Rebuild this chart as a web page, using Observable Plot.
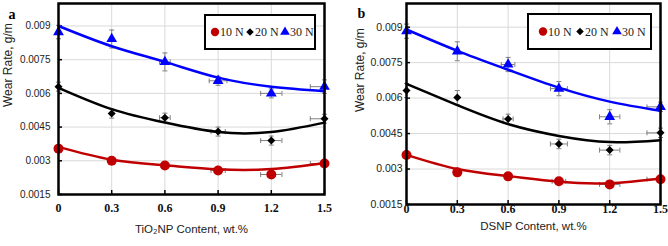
<!DOCTYPE html>
<html><head><meta charset="utf-8">
<script src="https://cdn.jsdelivr.net/npm/d3@7"></script>
<script src="https://cdn.jsdelivr.net/npm/@observablehq/plot@0.6"></script>
<style>
body{margin:0;background:#fff;}
#wrap{display:flex;width:668px;height:246px;overflow:hidden;}
svg{display:block;background:#fff;}
</style></head><body><div id="wrap"></div>
<script>
const xTicks = [0, 0.3, 0.6, 0.9, 1.2, 1.5];
const yTicks = [0.0015, 0.003, 0.0045, 0.006, 0.0075, 0.009];
const loads = ["10 N", "20 N", "30 N"];
const loadColors = ["#c00000", "#000000", "#0000ff"];

// Panel a: TiO2NP
const aWear10 = [0.00354, 0.0030, 0.00279, 0.00257, 0.00239, 0.00288];
const aWear20 = [0.0063, 0.0051, 0.00492, 0.0043, 0.0039, 0.00487];
const aWear30 = [0.00873, 0.00842, 0.0074, 0.00656, 0.0060, 0.0063];
const aTrend10 = [0.00362, 0.00305, 0.0028, 0.00262, 0.00263, 0.0029];
const aTrend20 = [0.00625, 0.0053, 0.0047, 0.00428, 0.00428, 0.0047];
const aTrend30 = [0.0090, 0.0081, 0.0074, 0.0067, 0.0063, 0.0061];
const aYerr10 = [0.0001, 0.0001, 0.0001, 0.0001, 0.0001, 0.0001];
const aYerr20 = [0.0002, 0.0002, 0.0002, 0.0002, 0.0002, 0.0002];
const aYerr30 = [0.0003, 0.0004, 0.0004, 0.0002, 0.0002, 0.0003];
const aXerr10 = [0, 0, 0, 0.04, 0.06, 0.08];
const aXerr20 = [0, 0, 0.03, 0.04, 0.06, 0.08];
const aXerr30 = [0, 0, 0.03, 0.05, 0.06, 0.08];

// Panel b: DSNP
const bWear10 = [0.00359, 0.00286, 0.00269, 0.00248, 0.00235, 0.00257];
const bWear20 = [0.00632, 0.00602, 0.00512, 0.00406, 0.0038, 0.00453];
const bWear30 = [0.00883, 0.00798, 0.00742, 0.0064, 0.00521, 0.00563];
const bTrend10 = [0.0036, 0.0030, 0.0027, 0.00246, 0.0024, 0.0026];
const bTrend20 = [0.0066, 0.0057, 0.0049, 0.0044, 0.00414, 0.00422];
const bTrend30 = [0.0089, 0.0080, 0.0072, 0.00644, 0.00585, 0.00546];
const bYerr10 = [0.0001, 0.0001, 0.0001, 0.0001, 0.0001, 0.0001];
const bYerr20 = [0.0003, 0.0003, 0.0002, 0.0002, 0.0002, 0.0002];
const bYerr30 = [0.0003, 0.0004, 0.0003, 0.0003, 0.0003, 0.0002];
const bXerr10 = [0, 0, 0, 0.04, 0.06, 0.08];
const bXerr20 = [0, 0, 0.03, 0.05, 0.06, 0.08];
const bXerr30 = [0, 0, 0.04, 0.05, 0.06, 0.08];

const xLabelA = "TiO\u2082NP Content, wt.%";
const xLabelB = "DSNP Content, wt.%";
const yLabel = "Wear Rate, g/m";

function rowsOf(wears, yerrs, xerrs) {
  const rows = [];
  loads.forEach((load, i) => xTicks.forEach((x, j) => rows.push({x, y: wears[i][j], load, yerr: yerrs[i][j], xerr: xerrs[i][j]})));
  return rows;
}
function trendOf(trends) {
  const rows = [];
  loads.forEach((load, i) => xTicks.forEach((x, j) => rows.push({x, y: trends[i][j], load})));
  return rows;
}

const hcap = {draw(ctx, size) { const s = 2.5; ctx.moveTo(-s, 0); ctx.lineTo(s, 0); }};
const vcap = {draw(ctx, size) { const s = 2.5; ctx.moveTo(0, -s); ctx.lineTo(0, s); }};

function panel(cfg) {
  const {rows, trend, ml, mr, mt, mb, xLabel, letter, yDx, yFs, xDy, titleDy, yTitleDx, yTitleDy, letterDx, letterDy} = cfg;
  const W = 334, H = 246;
  const innerW = W - ml - mr, innerH = H - mt - mb;
  const grid = "#d9d9d9", errC = "#808080";
  const yRows = rows.filter(d => d.yerr > 0), xRows = rows.filter(d => d.xerr > 0);
  const marks = [
    Plot.ruleY(yTicks, {y: d => d, stroke: grid, strokeWidth: 1}),
    Plot.ruleX(xTicks, {x: d => d, stroke: grid, strokeWidth: 1}),
    Plot.ruleY(yTicks, {y: d => d, stroke: "#000", strokeWidth: 1.5, insetRight: innerW - 4}),
    Plot.ruleX(xTicks, {x: d => d, stroke: "#000", strokeWidth: 1.5, insetTop: innerH - 4}),
    Plot.ruleX(yRows, {x: "x", y1: d => d.y - d.yerr, y2: d => d.y + d.yerr, stroke: errC, strokeWidth: 1}),
    Plot.dot(yRows, {x: "x", y: d => d.y + d.yerr, symbol: hcap, r: 2, fill: "none", stroke: errC, strokeWidth: 1}),
    Plot.dot(yRows, {x: "x", y: d => d.y - d.yerr, symbol: hcap, r: 2, fill: "none", stroke: errC, strokeWidth: 1}),
    Plot.ruleY(xRows, {y: "y", x1: d => d.x - d.xerr, x2: d => d.x + d.xerr, stroke: errC, strokeWidth: 1, clip: true}),
    Plot.dot(xRows.filter(d => d.x + d.xerr <= 1.5), {x: d => d.x + d.xerr, y: "y", symbol: vcap, r: 2, fill: "none", stroke: errC, strokeWidth: 1}),
    Plot.dot(xRows, {x: d => d.x - d.xerr, y: "y", symbol: vcap, r: 2, fill: "none", stroke: errC, strokeWidth: 1}),
    Plot.line(trend, {x: "x", y: "y", z: "load", stroke: "load", strokeWidth: 2.5, curve: "natural"}),
    Plot.dot(rows.filter(d => d.load === loads[0]), {x: "x", y: "y", fill: "load", symbol: "circle", r: 5}),
    Plot.dot(rows.filter(d => d.load === loads[1]), {x: "x", y: "y", fill: "load", symbol: "diamond2", r: 3.6}),
    Plot.dot(rows.filter(d => d.load === loads[2]), {x: "x", y: "y", fill: "load", symbol: "triangle", r: 4}),
    Plot.frame({stroke: "#000", strokeWidth: 2.5}),
    Plot.text(xTicks, {x: d => d, frameAnchor: "bottom", dy: xDy, text: d => String(d), fontFamily: "Liberation Serif, Times New Roman, serif", fontWeight: "bold", fontSize: 12, fill: "#111"}),
    Plot.text(yTicks, {y: d => d, frameAnchor: "left", dx: yDx, textAnchor: "end", text: d => String(d), fontFamily: "Liberation Sans, Arial, sans-serif", fontSize: yFs, fill: "#222"}),
    Plot.text([xLabel], {frameAnchor: "bottom", dy: titleDy, text: d => d, fontFamily: "Liberation Sans, Arial, sans-serif", fontSize: 11.5, fill: "#222"}),
    Plot.text([yLabel], {frameAnchor: "left", dx: yTitleDx, dy: yTitleDy, rotate: -90, text: d => d, fontFamily: "Liberation Sans, Arial, sans-serif", fontSize: 12, fill: "#222"}),
    Plot.text([letter], {frameAnchor: "top-left", dx: letterDx, dy: letterDy, text: d => d, fontFamily: "Liberation Serif, Times New Roman, serif", fontWeight: "bold", fontSize: 14, fill: "#000"})
  ];
  const svg = Plot.plot({
    width: W, height: H,
    marginLeft: ml, marginRight: mr, marginTop: mt, marginBottom: mb,
    x: {domain: [0, 1.5], axis: null},
    y: {domain: [0.0015, 0.0100], axis: null},
    color: {domain: loads, range: loadColors},
    style: {background: "#fff", overflow: "visible"},
    marks
  });
  // legend box
  const lg = cfg.legend;
  const g = d3.select(svg).append("g").attr("transform", `translate(${lg.x},${lg.y})`).attr("text-anchor", "start");
  g.append("rect").attr("width", lg.w).attr("height", lg.h).attr("fill", "#fff").attr("stroke", "#000").attr("stroke-width", 2);
  const syms = [d3.symbolCircle, d3.symbolDiamond2, d3.symbolTriangle];
  const sizes = [Math.PI * 4.2 * 4.2, Math.PI * 3.4 * 3.4, Math.PI * 3.6 * 3.6];
  loads.forEach((load, i) => {
    const cx = lg.items[i];
    g.append("path").attr("d", d3.symbol(syms[i], sizes[i])()).attr("fill", loadColors[i])
      .attr("transform", `translate(${cx},${lg.h / 2})`);
    g.append("text").attr("x", cx + 5).attr("y", lg.h / 2).attr("dy", "0.35em").attr("text-anchor", "start")
      .attr("font-family", "Liberation Serif, Times New Roman, serif").attr("font-size", 12).attr("fill", "#222")
      .text(load);
  });
  return svg;
}

const wrap = document.getElementById("wrap");
wrap.appendChild(panel({
  rows: rowsOf([aWear10, aWear20, aWear30], [aYerr10, aYerr20, aYerr30], [aXerr10, aXerr20, aXerr30]),
  trend: trendOf([aTrend10, aTrend20, aTrend30]),
  ml: 58, mr: 10, mt: 3, mb: 52,
  xLabel: xLabelA, letter: "a",
  yDx: -8, yFs: 10, xDy: 17, titleDy: 38, yTitleDx: -50, yTitleDy: 8, letterDx: -50, letterDy: 6,
  legend: {x: 205, y: 15, w: 110, h: 34, items: [10, 45, 80]}
}));
wrap.appendChild(panel({
  rows: rowsOf([bWear10, bWear20, bWear30], [bYerr10, bYerr20, bYerr30], [bXerr10, bXerr20, bXerr30]),
  trend: trendOf([bTrend10, bTrend20, bTrend30]),
  ml: 72, mr: 8, mt: 3, mb: 42,
  xLabel: xLabelB, letter: "b",
  yDx: -4, yFs: 10.5, xDy: 8, titleDy: 25, yTitleDx: -46, yTitleDy: 8, letterDx: -49, letterDy: 5,
  legend: {x: 194, y: 14, w: 123, h: 35, items: [15, 52, 89]}
}));
</script></body></html>
